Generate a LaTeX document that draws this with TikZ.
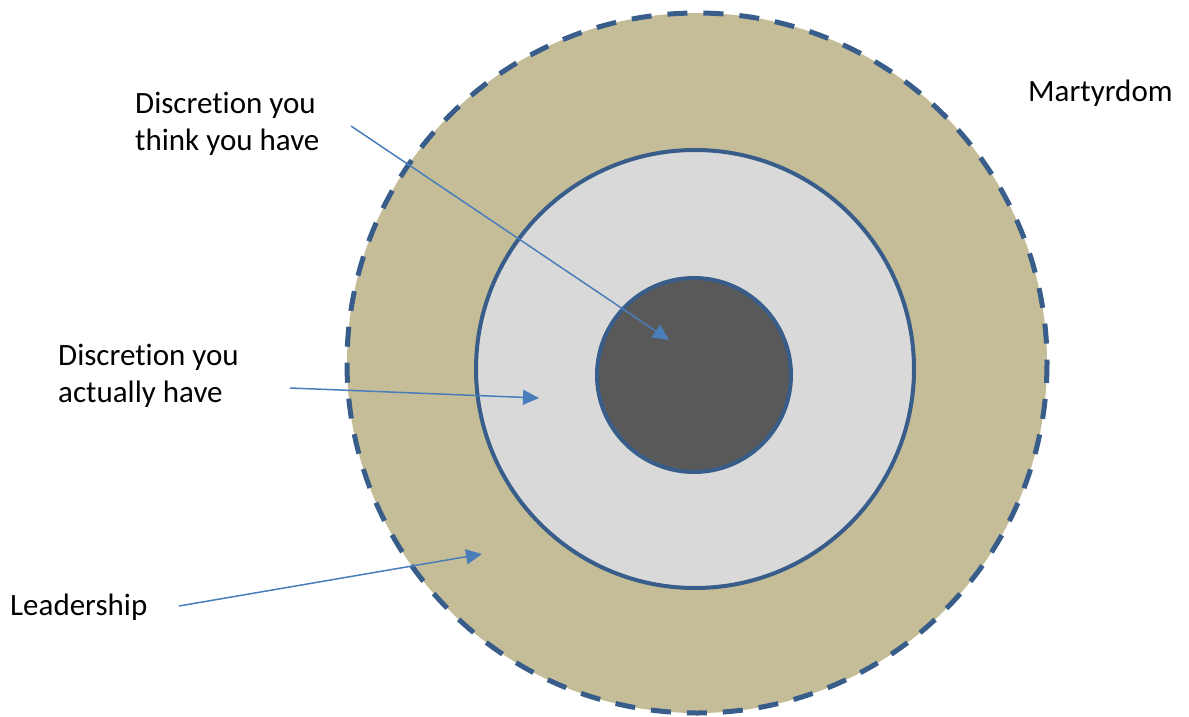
\documentclass[tikz,border=0pt]{standalone}
\usepackage{fontspec}
\setmainfont{Carlito}[Ligatures={NoCommon}]
\usepackage{xcolor}
\usetikzlibrary{arrows.meta}

\definecolor{ringline}{HTML}{385D8A}
\definecolor{arrowblue}{HTML}{4A7EBB}
\definecolor{ringtan}{HTML}{C4BD97}
\definecolor{ringlight}{HTML}{D9D9D9}
\definecolor{ringdark}{HTML}{595959}

\begin{document}
\begin{tikzpicture}[x=1pt,y=-1pt,
    ring/.style={draw=ringline,line width=4pt},
    pointer/.style={draw=arrowblue,line width=1.5pt,-{Triangle[length=16pt,width=15pt]}},
    label/.style={anchor=base west,inner sep=0pt,align=left,
        font=\fontsize{31}{37}\selectfont}]
    \useasboundingbox (0,0) rectangle (1189,717);

    % rings
    \fill[ringtan] (697,363) circle (350);
    \draw[ringline,line width=5pt,dash pattern=on 20pt off 16pt] (697,363) circle (350);
    \draw[ring,fill=ringlight] (695,369) circle (219);
    \draw[ring,fill=ringdark] (694,375) circle (97);

    % texts (base = last line)
    \node[label] (think) at (135,150) {Discretion you\\think you have};
    \node[label] (actual) at (58,402) {Discretion you\\actually have};
    \node[label] (lead) at (10,615) {Leadership};
    \node[label] (martyr) at (1028,102) {Martyrdom};

    % arrows
    \coordinate (thinkS) at (351,126);
    \coordinate (thinkE) at (669,340);
    \coordinate (actualS) at (290,388);
    \coordinate (actualE) at (539,398);
    \coordinate (leadS) at (179,606);
    \coordinate (leadE) at (482,554);
    \draw[pointer] (thinkS) -- (thinkE);
    \draw[pointer] (actualS) -- (actualE);
    \draw[pointer] (leadS) -- (leadE);
\end{tikzpicture}
\end{document}
